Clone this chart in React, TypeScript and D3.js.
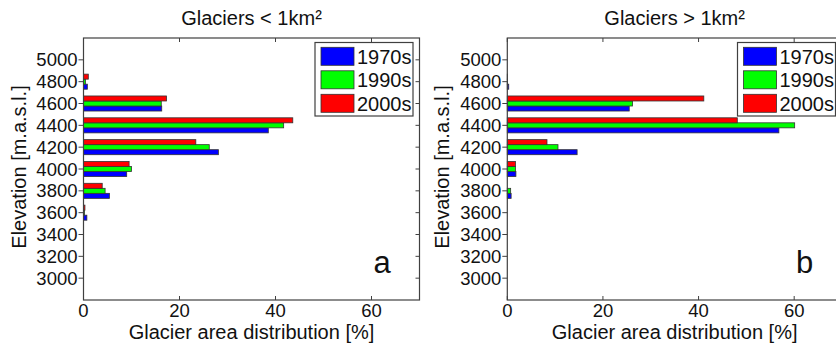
import React from "react";
import * as d3 from "d3";

const elevations = [3000, 3200, 3400, 3600, 3800, 4000, 4200, 4400, 4600, 4800, 5000];
const yTicks = [3000, 3200, 3400, 3600, 3800, 4000, 4200, 4400, 4600, 4800, 5000];
const xTicks = [0, 20, 40, 60];
const seriesNames = ["1970s", "1990s", "2000s"];
const seriesColors = ["#0000ff", "#00ff00", "#ff0000"];

// Panel a: glaciers < 1 km²
const small1970s = [0, 0, 0, 0.7, 5.4, 9.0, 28.1, 38.5, 16.3, 0.8, 0];
const small1990s = [0, 0, 0, 0.2, 4.5, 10.0, 26.2, 41.7, 16.2, 0.4, 0];
const small2000s = [0, 0, 0, 0.3, 3.9, 9.5, 23.4, 43.6, 17.3, 1.0, 0];

// Panel b: glaciers > 1 km²
const large1970s = [0, 0, 0, 0, 0.8, 1.8, 14.6, 56.8, 25.5, 0.3, 0];
const large1990s = [0, 0, 0, 0, 0.7, 1.7, 10.6, 60.1, 26.2, 0.05, 0];
const large2000s = [0, 0, 0, 0, 0, 1.7, 8.3, 48.1, 41.1, 0.05, 0];

const titles = ["Glaciers < 1km²", "Glaciers > 1km²"];
const panelLetters = ["a", "b"];
const xLabel = "Glacier area distribution [%]";
const yLabel = "Elevation [m.a.s.l.]";

const FONT = "'Liberation Sans', Arial, Helvetica, sans-serif";
const AX = "#404040";
const TOP = 38;
const BOTTOM = 300;

function Panel({ x0, x1, data, title, letter }: { x0: number; x1: number; data: number[][]; title: string; letter: string }) {
  const x = d3.scaleLinear().domain([0, 70]).range([x0, x1]);
  const y = d3.scaleLinear().domain([2800, 5200]).range([BOTTOM, TOP]);
  const step = Math.abs(y(3200) - y(3000));
  const groupW = step * 0.69;
  const band = d3
    .scaleBand<string>()
    .domain(["2000s", "1990s", "1970s"])
    .range([-groupW / 2, groupW / 2])
    .padding(0);
  const cx = (x0 + x1) / 2;
  const cy = (TOP + BOTTOM) / 2;
  const legX = x1 - 104.5;
  const legY = 42.5;
  return (
    <g>
      <text x={cx} y={25} textAnchor="middle" fontSize={20} fontFamily={FONT} fill="#111">
        {title}
      </text>
      {/* bars */}
      {elevations.map((e, i) =>
        seriesNames.map((s, k) => {
          const v = data[k][i];
          if (!v) return null;
          return (
            <rect
              key={`${e}-${s}`}
              x={x(0)}
              y={y(e) + (band(s) as number)}
              width={x(v) - x(0)}
              height={band.bandwidth()}
              fill={seriesColors[k]}
              stroke="#333"
              strokeWidth={0.8}
            />
          );
        })
      )}
      {/* axes box */}
      <rect x={x0} y={TOP} width={x1 - x0} height={BOTTOM - TOP} fill="none" stroke={AX} strokeWidth={1.2} />
      {/* y ticks */}
      {yTicks.map((t) => (
        <g key={`y${t}`}>
          <line x1={x0 - 5} x2={x0} y1={y(t)} y2={y(t)} stroke={AX} strokeWidth={1} />
          <line x1={x1 - 4} x2={x1} y1={y(t)} y2={y(t)} stroke={AX} strokeWidth={1} />
          <text x={x0 - 6} y={y(t)} dy="0.36em" textAnchor="end" fontSize={18.5} fontFamily={FONT} fill="#111">
            {t}
          </text>
        </g>
      ))}
      {/* x ticks */}
      {xTicks.map((t) => (
        <g key={`x${t}`}>
          <line x1={x(t)} x2={x(t)} y1={BOTTOM} y2={BOTTOM - 4} stroke={AX} strokeWidth={1} />
          <line x1={x(t)} x2={x(t)} y1={TOP} y2={TOP + 4} stroke={AX} strokeWidth={1} />
          <text x={x(t)} y={317} textAnchor="middle" fontSize={18.5} fontFamily={FONT} fill="#111">
            {t}
          </text>
        </g>
      ))}
      <text x={cx} y={339} textAnchor="middle" fontSize={20} fontFamily={FONT} fill="#111">
        {xLabel}
      </text>
      <text
        transform={`translate(${x0 - 58},${cy - 2}) rotate(-90)`}
        textAnchor="middle"
        fontSize={20}
        fontFamily={FONT}
        fill="#111"
      >
        {yLabel}
      </text>
      <text x={x(62.2)} y={273} textAnchor="middle" fontSize={31} fontFamily={FONT} fill="#111">
        {letter}
      </text>
      {/* legend */}
      <g>
        <rect x={legX} y={legY} width={98} height={73.5} fill="#fff" stroke={AX} strokeWidth={1.2} />
        {seriesNames.map((s, k) => (
          <g key={s}>
            <rect x={legX + 6} y={legY + 4.8 + k * 23.5} width={33} height={18} fill={seriesColors[k]} stroke="#333" strokeWidth={0.8} />
            <text x={legX + 42} y={legY + 4.8 + k * 23.5 + 9} dy="0.36em" fontSize={20} fontFamily={FONT} fill="#111">
              {s}
            </text>
          </g>
        ))}
      </g>
    </g>
  );
}

export default function App() {
  const smallData = [small1970s, small1990s, small2000s];
  const largeData = [large1970s, large1990s, large2000s];
  return (
    <div style={{ position: "absolute", left: 0, top: 0 }}>
      <svg width={836} height={352} style={{ display: "block", background: "#fff" }}>
        <Panel x0={83.5} x1={419.5} data={smallData} title={titles[0]} letter={panelLetters[0]} />
        <Panel x0={507.3} x1={842} data={largeData} title={titles[1]} letter={panelLetters[1]} />
      </svg>
    </div>
  );
}
